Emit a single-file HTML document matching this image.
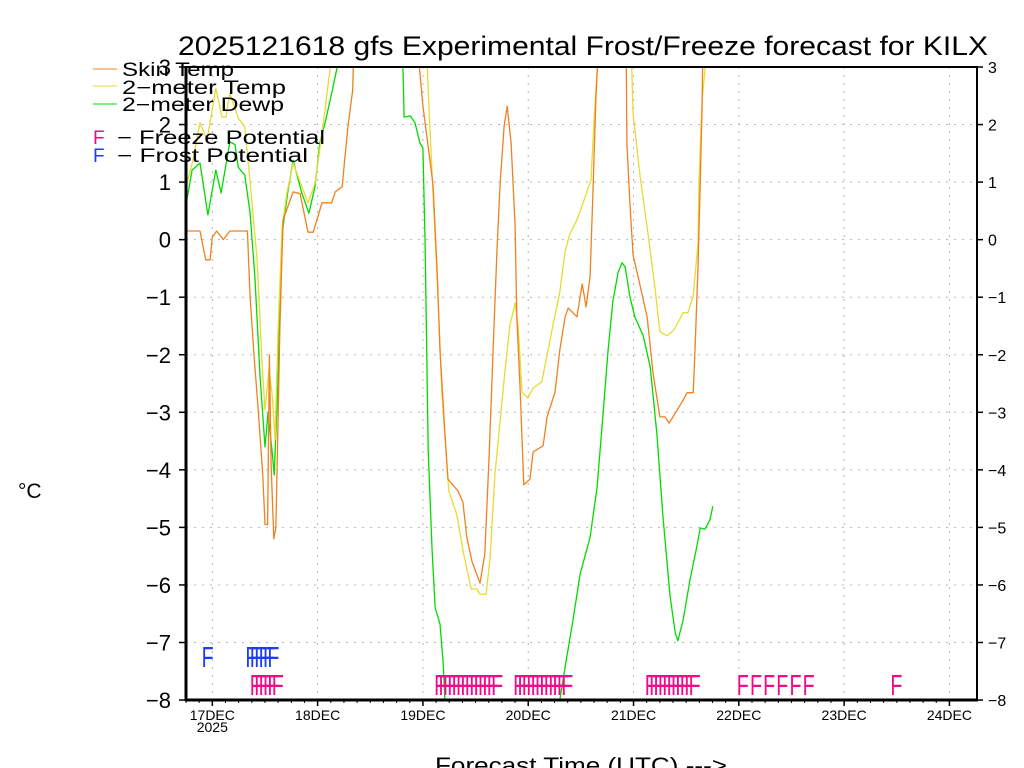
<!DOCTYPE html>
<html><head><meta charset="utf-8"><style>
body{margin:0;background:#fff}
svg{display:block}
text{font-family:"Liberation Sans",sans-serif;fill:#000}
</style></head><body>
<svg id="chart" width="1024" height="768" viewBox="0 0 1024 768" xmlns="http://www.w3.org/2000/svg">
<defs><clipPath id="plotclip"><rect x="186" y="67" width="791" height="633"/></clipPath></defs>
<rect width="1024" height="768" fill="#fff"/>
<text x="178" y="55" font-size="27" textLength="810" lengthAdjust="spacingAndGlyphs">2025121618 gfs Experimental Frost/Freeze forecast for KILX</text>
<g id="grid"></g>
<g id="series" clip-path="url(#plotclip)"></g>
<g id="flags"></g>
<g id="axes"></g>
<text x="18" y="498" font-size="21">°C</text>
<text x="435" y="773" font-size="22" textLength="292" lengthAdjust="spacingAndGlyphs">Forecast Time (UTC) ---&gt;</text>
<g>
<line x1="93" y1="69" x2="117" y2="69" stroke="#f08020" stroke-width="1"/>
<text x="122" y="76" font-size="19" textLength="112" lengthAdjust="spacingAndGlyphs">Skin Temp</text>
<line x1="93" y1="86" x2="117" y2="86" stroke="#e6dc32" stroke-width="1"/>
<text x="122" y="94" font-size="19" textLength="164" lengthAdjust="spacingAndGlyphs">2−meter Temp</text>
<line x1="93" y1="104" x2="117" y2="104" stroke="#00dc00" stroke-width="1"/>
<text x="122" y="111" font-size="19" textLength="162" lengthAdjust="spacingAndGlyphs">2−meter Dewp</text>
<text x="93" y="144" font-size="19" style="fill:#f00a8c">F</text>
<text x="117" y="144" font-size="19" textLength="208" lengthAdjust="spacingAndGlyphs">−  Freeze Potential</text>
<text x="93" y="162" font-size="19" style="fill:#1e3cff">F</text>
<text x="117" y="162" font-size="19" textLength="191" lengthAdjust="spacingAndGlyphs">−  Frost Potential</text>
</g>
</svg>
<script>
// forecast hours from 2025-12-16 18Z
const skinHours = [0,3.2,4.5,5.5,6,7,8.5,10,14,14.6,15.5,16.5,17.5,18,18.6,19,19.4,20,20.5,21.4,22.1,24.4,26,27.8,29,31,33.2,34,35.6,36,36.9,38,38.3,
 52.6,54,56.3,57.2,57.9,59,59.7,62,63.1,64,65.2,67,68.1,69.1,70,70.9,71.6,72.5,73.2,74.1,75,75.4,76.1,77,78.4,79.1,81.4,82.3,84.1,85.2,86.4,87.1,89.1,90.3,91.2,92.1,92.8,93.4,93.9,94.3,
 100.3,100.5,101.2,101.9,103,105.1,106.5,108,109.2,110.1,113.3,114.2,115.6,116,116.7,117.2,117.6,117.8,118.2];
const skinVals = [0.15,0.15,-0.35,-0.35,0.05,0.15,0,0.15,0.15,-1,-2,-3,-4.1,-4.95,-4.95,-2.0,-3.9,-5.2,-5.0,-1.52,0.34,0.83,0.8,0.13,0.13,0.64,0.64,0.83,0.92,1.26,1.96,2.6,3.5,
 3.5,2.33,0.96,-0.48,-1.92,-3.36,-4.16,-4.37,-4.56,-5.17,-5.6,-5.97,-5.46,-3.73,-1.92,-0.13,0.96,1.97,2.32,1.68,0.24,-1.34,-2.5,-4.26,-4.16,-3.69,-3.58,-3.08,-2.65,-1.92,-1.34,-1.19,-1.34,-0.77,-1.17,-0.63,0.96,2.4,3.2,3.5,
 3.5,1.68,0.6,-0.27,-0.63,-1.34,-2.35,-3.08,-3.08,-3.19,-2.79,-2.66,-2.66,-1.92,-0.48,0.96,2.25,3.2,3.5];
const t2mHours = [0.2,1.6,3.2,4.8,6.8,8.2,9.1,10,11.9,13.4,15,16.2,17.3,18,18.9,19.6,20.3,21,21.9,23,24.4,27.8,29.4,31.2,32.8,33.2,
 54.7,55.4,56.3,57.4,58.3,59.5,59.9,61.8,63.1,65,66.3,67,68.4,69.3,70.4,71.6,72.7,73.8,75,75.7,76.6,77.9,79.1,81.1,82.3,83.6,85.2,86.4,87.5,89.1,90.5,92.3,93,93.7,94,
 101.4,101.9,103.5,105.3,106.9,108,109.6,111.2,113.3,114.4,115.6,116.7,116.9,117.6,118.3,118.6];
const t2mVals = [0.98,1.38,2.03,1.73,2.63,2.13,2.13,2.55,2.11,1.96,0.69,-0.35,-2.09,-2.96,-2.26,-2.66,-3.48,-1.57,0.22,0.81,1.33,0.64,0.98,1.96,2.95,3.5,
 3.5,2.25,0.81,-0.93,-2.65,-3.95,-4.37,-4.8,-5.4,-6.07,-6.07,-6.16,-6.16,-5.53,-4.09,-3.15,-2.28,-1.5,-1.1,-1.5,-2.65,-2.75,-2.58,-2.47,-2.0,-1.5,-0.91,-0.2,0.1,0.34,0.64,1.04,2.04,2.95,3.5,
 3.5,2.18,1.1,0.1,-0.84,-1.6,-1.67,-1.57,-1.27,-1.27,-0.98,-0.06,0.96,2.4,2.95,3.5];
const dewpHours = [0.2,1.4,3.2,5,6.8,8,10,11.2,11.9,13.4,14.6,15.7,16.9,18,18.7,19.6,20.1,21,21.4,22.1,23.2,24.4,26.4,28,29.4,30.5,31.7,33.5,34.6,35,
 49.3,49.7,51.1,52.2,53.3,54,54.5,55.2,56.1,56.8,57.9,58.6,59,60,84,85.2,
 86.8,88.2,89.8,92.1,93.7,95,96.2,97.3,98.5,99.4,100.1,101.2,102.3,104.2,105.8,107.3,108.7,110.3,111.5,112.1,113.3,114.9,116.5,117.2,118.3,119.4,120.1];
const dewpVals = [0.69,1.21,1.33,0.43,1.21,0.81,1.7,1.65,1.26,1.12,0.46,-0.65,-2.39,-3.6,-3.01,-3.66,-4.09,-2.39,-0.93,0.22,0.83,1.38,0.81,0.46,0.92,1.68,2.03,2.65,3.05,3.5,
 3.5,2.13,2.15,2.03,1.68,1.59,-0.06,-3.66,-5.4,-6.4,-6.68,-7.34,-8.0,-9,-9,-8.0,
 -7.25,-6.61,-5.82,-5.17,-4.3,-3.08,-1.92,-1.07,-0.56,-0.4,-0.48,-1.0,-1.34,-1.67,-2.21,-3.36,-4.8,-6.17,-6.83,-6.97,-6.61,-5.9,-5.31,-5.01,-5.03,-4.87,-4.63];
const frostHours = [4,14,15,16,17,18,19];
const freezeHours = [15,16,17,18,19,20,57,58,59,60,61,62,63,64,65,66,67,68,69,70,75,76,77,78,79,80,81,82,83,84,85,86,105,106,107,108,109,110,111,112,113,114,115,126,129,132,135,138,141,161];
const yTicks = [3,2,1,0,-1,-2,-3,-4,-5,-6,-7,-8];
const dayLabels = ["17DEC","18DEC","19DEC","20DEC","21DEC","22DEC","23DEC","24DEC"];

const NS = "http://www.w3.org/2000/svg";
const X0 = 186, PXH = 105.3/24, Y3 = 67, PXD = 57.55;
const xs = h => X0 + h*PXH;
const ys = v => Y3 + (3 - v)*PXD;
function mk(tag, attrs, parent){const e=document.createElementNS(NS,tag);for(const k in attrs)e.setAttribute(k,attrs[k]);parent.appendChild(e);return e;}
const grid=document.getElementById('grid'), ser=document.getElementById('series'), flags=document.getElementById('flags'), axes=document.getElementById('axes');

yTicks.forEach(v=>{
  if(v>-8 && v<3){const l=mk('line',{x1:186,x2:977,y1:ys(v),y2:ys(v),stroke:'#b4b4b4','stroke-dasharray':'2,6'},grid);
  
  }
  const t=mk('line',{x1:179,x2:186,y1:ys(v),y2:ys(v),stroke:'#000','stroke-width':1.5},axes);
  
  
  const t2=mk('line',{x1:977,x2:983,y1:ys(v),y2:ys(v),stroke:'#000','stroke-width':1.5},axes);
  
  
  const lab=mk('text',{x:171,y:ys(v)+8,'font-size':22,'text-anchor':'end'},axes);
  lab.textContent=(v<0?'−':'')+Math.abs(v);
  
  
  const lab2=mk('text',{x:988,y:ys(v)+6,'font-size':16},axes);
  lab2.textContent=(v<0?'−':'')+Math.abs(v);
  
  
});
dayLabels.forEach((d,i)=>{
  const x=xs(6+24*i);
  const g=mk('line',{x1:x,x2:x,y1:67,y2:700,stroke:'#b4b4b4','stroke-dasharray':'2,6'},grid);
  
  
  const t=mk('line',{x1:x,x2:x,y1:700,y2:706,stroke:'#000','stroke-width':1.5},axes);
  
  
  const lab=mk('text',{x:x,y:720,'font-size':14,'text-anchor':'middle'},axes);
  lab.textContent=d;
  
  
});
for(let h=0;h<=174;h+=3){
  const m=mk('line',{x1:xs(h),x2:xs(h),y1:700,y2:703,stroke:'#000','stroke-width':1},axes);
  
  
}
const yr=mk('text',{x:xs(6),y:732,'font-size':14,'text-anchor':'middle'},axes);
yr.textContent='2025';


const fr=mk('rect',{x:186,y:67,width:791,height:633,fill:'none',stroke:'#000','stroke-width':2},axes);


const la=mk('line',{x1:186,x2:186,y1:66,y2:701,stroke:'#000','stroke-width':3},axes);


const ba=mk('line',{x1:185,x2:978,y1:700,y2:700,stroke:'#000','stroke-width':3},axes);



function series(hours, vals, color, name){
  const pts=hours.map((h,i)=>xs(h).toFixed(1)+','+ys(vals[i]).toFixed(1)).join(' ');
  const p=mk('polyline',{points:pts,fill:'none',stroke:color,'stroke-width':1.3,'stroke-linejoin':'round'},ser);
  
  
}
series(dewpHours,dewpVals,'#00dc00','dewpoint-line');
series(t2mHours,t2mVals,'#e6dc32','temp-2m-line');
series(skinHours,skinVals,'#f08020','skin-temp-line');

function flag(h, yb, color, name){
  const x=xs(h);
  const t=mk('text',{x:0,y:0,'font-size':29,transform:`translate(${(x-2).toFixed(1)},${yb}) scale(0.68,1)`,style:'fill:'+color},flags);
  t.textContent='F';
  
  
}
frostHours.forEach(h=>flag(h,667,'#1e3cff','frost-flag'));
freezeHours.forEach(h=>flag(h,695,'#f00a8c','freeze-flag'));
</script>
</body></html>
